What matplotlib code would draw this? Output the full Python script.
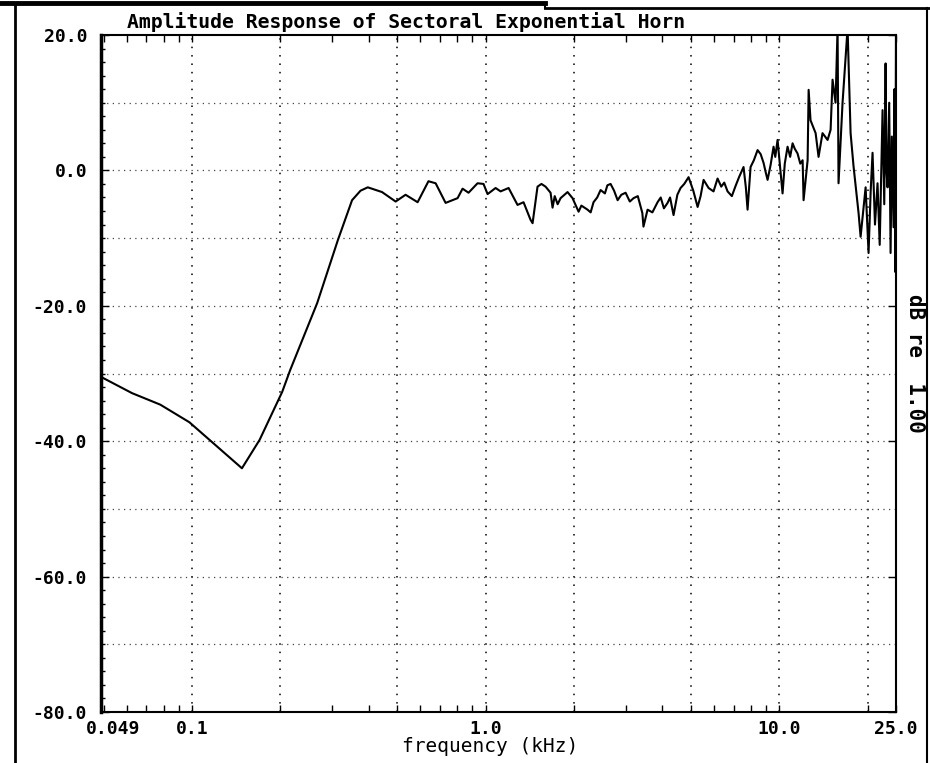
import matplotlib
matplotlib.use("Agg")
import matplotlib.pyplot as plt
from matplotlib.ticker import FixedLocator, NullFormatter
from matplotlib.lines import Line2D
from matplotlib.transforms import ScaledTranslation

plt.rcParams['font.family'] = ['DejaVu Sans Mono']

# data (kHz, dB)
freq = [0.049, 0.0625, 0.078, 0.098, 0.148, 0.170, 0.203, 0.216, 0.267, 0.314,
        0.351, 0.375, 0.397, 0.444, 0.494, 0.534, 0.587, 0.639, 0.676, 0.731,
        0.803, 0.835, 0.875, 0.939, 0.984, 1.016, 1.082, 1.125, 1.198, 1.285,
        1.347, 1.423, 1.446, 1.503, 1.55, 1.601, 1.665, 1.691, 1.72, 1.76,
        1.801, 1.902, 1.978, 2.074, 2.12, 2.225, 2.28, 2.332, 2.40, 2.465,
        2.55, 2.6, 2.666, 2.74, 2.817, 2.90, 2.999, 3.1, 3.192, 3.3,
        3.42, 3.45, 3.563, 3.7, 3.853, 3.95, 4.05, 4.168, 4.25, 4.368,
        4.5, 4.615, 4.75, 4.914, 5.1, 5.275, 5.4, 5.528, 5.75, 5.977,
        6.168, 6.35, 6.5, 6.672, 6.9, 7.104, 7.3, 7.563, 7.7, 7.805,
        7.991, 8.2, 8.443, 8.65, 8.850, 9.0, 9.131, 9.35, 9.570, 9.7,
        9.876, 10.05, 10.27, 10.45, 10.68, 10.9, 11.11, 11.3, 11.55, 11.8,
        12.02, 12.11, 12.50, 12.60, 12.79, 13.31, 13.62, 14.05, 14.62, 14.97,
        15.20, 15.56, 15.81, 15.93, 16.44, 17.10, 17.51, 17.92, 18.64, 18.94,
        19.70, 20.16, 20.5, 20.8, 21.2, 21.63, 22.0, 22.5, 22.8, 23.04,
        23.2, 23.4, 23.7, 23.96, 24.2, 24.53, 24.7, 24.85, 25.0]
db = [-30.5, -32.9, -34.6, -37.2, -44.0, -39.8, -32.7, -29.5, -19.6, -10.3,
      -4.4, -3.0, -2.5, -3.2, -4.6, -3.6, -4.7, -1.6, -1.9, -4.8,
      -4.1, -2.7, -3.3, -1.9, -2.0, -3.5, -2.6, -3.1, -2.6, -5.1,
      -4.7, -7.3, -7.8, -2.4, -2.0, -2.4, -3.3, -5.5, -3.8, -5.0,
      -4.1, -3.2, -4.1, -6.1, -5.2, -5.8, -6.2, -4.7, -4.0, -2.9,
      -3.4, -2.2, -2.0, -3.0, -4.4, -3.6, -3.3, -4.6, -4.1, -3.8,
      -6.3, -8.3, -5.8, -6.2, -4.7, -4.0, -5.6, -4.8, -4.0, -6.6,
      -3.6, -2.6, -2.0, -1.0, -3.0, -5.4, -3.8, -1.4, -2.6, -3.1,
      -1.2, -2.4, -1.8, -3.1, -3.8, -2.3, -1.0, 0.5, -2.5, -5.8,
      0.5, 1.5, 3.0, 2.4, 1.1, -0.3, -1.4, 0.8, 3.5, 2.0,
      4.5, 1.0, -3.4, 1.0, 3.5, 2.0, 4.0, 3.2, 2.5, 1.0,
      1.5, -4.4, 1.5, 11.9, 7.4, 5.5, 2.0, 5.5, 4.5, 6.0,
      13.4, 10.0, 21.0, -1.9, 10.0, 21.0, 5.5, 0.6, -6.3, -9.8,
      -2.5, -12.2, -3.0, 2.6, -8.0, -1.9, -11.0, 8.9, -5.0, 15.8,
      0.0, -2.5, 10.0, -12.2, 5.0, -8.4, 12.0, -15.0, 21.0]

xtick_vals = [0.049, 0.1, 1.0, 10.0, 25.0]
xtick_labels = ['0.049', '0.1', '1.0', '10.0', '25.0']
ytick_vals = [20, 0, -20, -40, -60, -80]
ytick_labels = ['20.0', '0.0', '-20.0', '-40.0', '-60.0', '-80.0']
grid_freqs = [0.1, 0.2, 0.5, 1, 2, 5, 10, 20]
grid_db = [10, 0, -10, -20, -30, -40, -50, -60, -70]

W, H = 930, 763
fig = plt.figure(figsize=(W / 100, H / 100), dpi=100)
ax = fig.add_axes([101 / W, 1 - 712 / H, 795 / W, 677 / H])

ax.set_xscale('log')
ax.set_xlim(0.049, 25.0)
ax.set_ylim(-80, 20)

for f in grid_freqs:
    ax.axvline(f, color='black', lw=1.1, ls=(0, (1, 4.5)), zorder=1)
for d in grid_db:
    ax.axhline(d, color='#444444', lw=0.9, ls=(0, (1, 3.5)), zorder=1)

ax.plot(freq, db, color='black', lw=1.5, zorder=3)

# ticks
minor_x = [m * 10.0 ** e for e in (-2, -1, 0) for m in range(2, 10)] + [20.0]
minor_x = [v for v in minor_x if 0.049 < v < 25]
ax.xaxis.set_major_locator(FixedLocator(xtick_vals))
ax.xaxis.set_minor_locator(FixedLocator(minor_x))
ax.xaxis.set_minor_formatter(NullFormatter())
ax.set_xticklabels(xtick_labels)
ax.yaxis.set_major_locator(FixedLocator(ytick_vals))
ax.yaxis.set_minor_locator(FixedLocator(list(range(-80, 21, 2))))
ax.set_yticklabels(ytick_labels)

ax.tick_params(axis='x', which='both', direction='in', top=True, bottom=True,
               length=5, width=1, pad=6)
ax.tick_params(axis='y', which='major', direction='in', left=True, right=True,
               length=6, width=1, pad=10)
ax.tick_params(axis='y', which='minor', direction='in', left=True, right=False,
               length=3, width=1)
for lab in ax.get_xticklabels() + ax.get_yticklabels():
    lab.set_fontsize(13)
    lab.set_fontweight('bold')
first = ax.get_xticklabels()[0]
first.set_transform(first.get_transform() +
                    ScaledTranslation(0.12, 0, fig.dpi_scale_trans))

for side in ['top', 'bottom', 'right']:
    ax.spines[side].set_linewidth(1.5)
ax.spines['left'].set_linewidth(2.5)

fig.text(127 / W, 1 - 22 / H, 'Amplitude Response of Sectoral Exponential Horn',
         fontsize=14.2, fontweight='bold', ha='left', va='center')
fig.text(490 / W, 1 - 747 / H, 'frequency (kHz)', fontsize=14,
         ha='center', va='center')
fig.text(915 / W, 1 - 363 / H, 'dB re  1.00', fontsize=15, fontweight='bold',
         rotation=-90, ha='center', va='center')

# scanned page frame
def frame(x0, y0, x1, y1, lw):
    fig.add_artist(Line2D([x0 / W, x1 / W], [1 - y0 / H, 1 - y1 / H],
                          transform=fig.transFigure, color='black', lw=lw))

frame(0, 3, 545, 3, 3.5)
frame(545, 3, 545, 8, 1.5)
frame(545, 8, 930, 8, 2)
frame(15, 3, 15, 763, 2)
frame(927, 8, 927, 763, 1.5)

fig.savefig('out.png', dpi=100)
